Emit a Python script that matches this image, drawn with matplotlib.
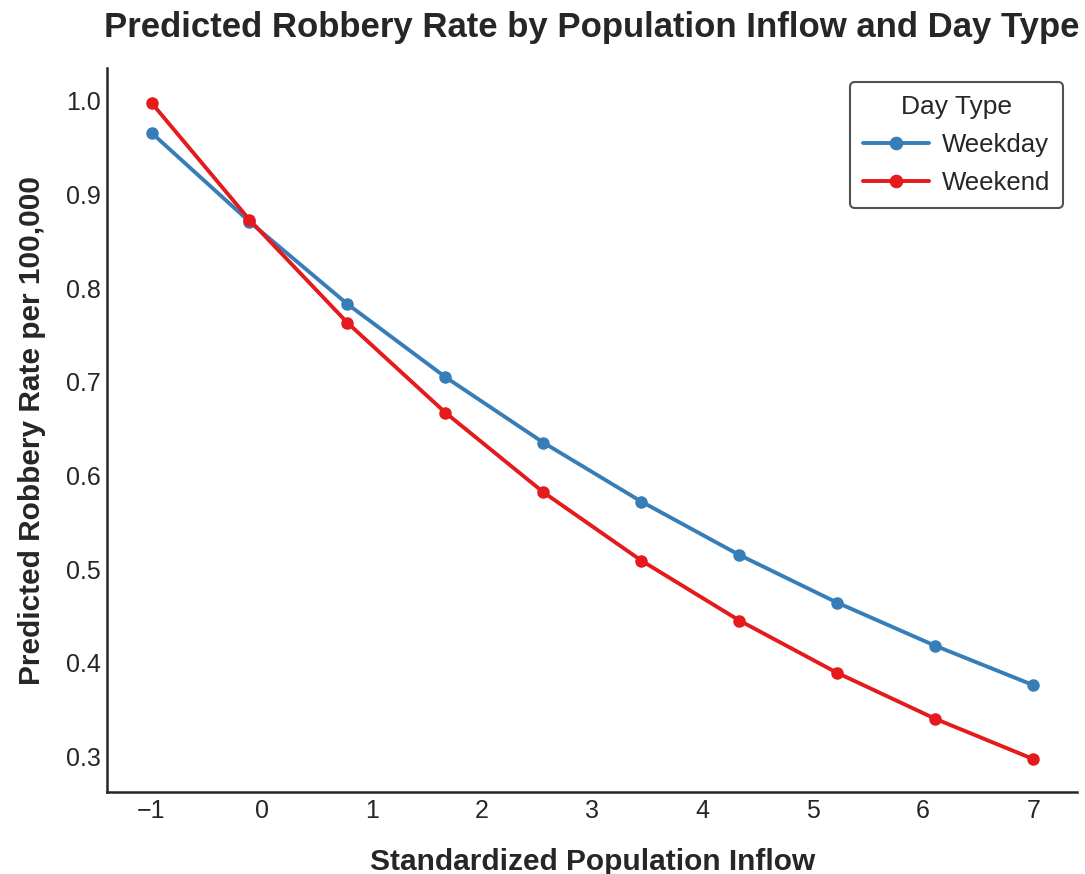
import numpy as np
import matplotlib
matplotlib.use("Agg")
import matplotlib.pyplot as plt
import seaborn as sns

# data
inflow = np.linspace(-1, 7, 10)
weekday = [0.966, 0.871, 0.783, 0.705, 0.635, 0.572, 0.515, 0.464, 0.418, 0.376]
weekend = [0.998, 0.873, 0.763, 0.667, 0.582, 0.509, 0.445, 0.389, 0.340, 0.297]
day_types = ["Weekday", "Weekend"]
colors = ["#377eb8", "#e41a1c"]

sns.set_style("white")
plt.rcParams['font.family'] = ['Liberation Sans', 'DejaVu Sans']

fig = plt.figure(figsize=(10.85, 8.74), dpi=100)
ax = fig.add_axes([0.099, 0.094, 0.894, 0.828])

for vals, name, c in zip([weekday, weekend], day_types, colors):
    ax.plot(inflow, vals, color=c, lw=2.8, marker='o', markersize=8, label=name)

ax.set_xlim(-1.4, 7.4)
ax.set_ylim(0.262, 1.035)
ax.set_xticks(range(-1, 8))
ax.set_yticks(np.arange(0.3, 1.01, 0.1))
ax.tick_params(labelsize=18, colors='#262626', pad=1.5)
ax.set_xlabel("Standardized Population Inflow", fontsize=21.5, fontweight='bold', labelpad=18)
ax.set_ylabel("Predicted Robbery Rate per 100,000", fontsize=21.5, fontweight='bold', labelpad=14)
fig.text(0.545, 0.968, "Predicted Robbery Rate by Population Inflow and Day Type",
         ha='center', va='center', fontsize=25, fontweight='bold', color='#262626')

for s in ['top', 'right']:
    ax.spines[s].set_visible(False)
for s in ['left', 'bottom']:
    ax.spines[s].set_color('#262626')
    ax.spines[s].set_linewidth(1.8)

leg = ax.legend(title="Day Type", fontsize=18.5, title_fontsize=19, frameon=True,
                loc='upper right', bbox_to_anchor=(0.9856, 0.981), borderaxespad=0,
                handlelength=2.6, handletextpad=0.5, markerscale=1.1,
                borderpad=0.5, labelspacing=0.55, fancybox=True)
leg.get_frame().set_edgecolor('#262626')
leg.get_frame().set_linewidth(1.5)
for t in leg.get_texts():
    t.set_color('#262626')
leg.get_title().set_color('#262626')

fig.savefig("out.png", dpi=100)
